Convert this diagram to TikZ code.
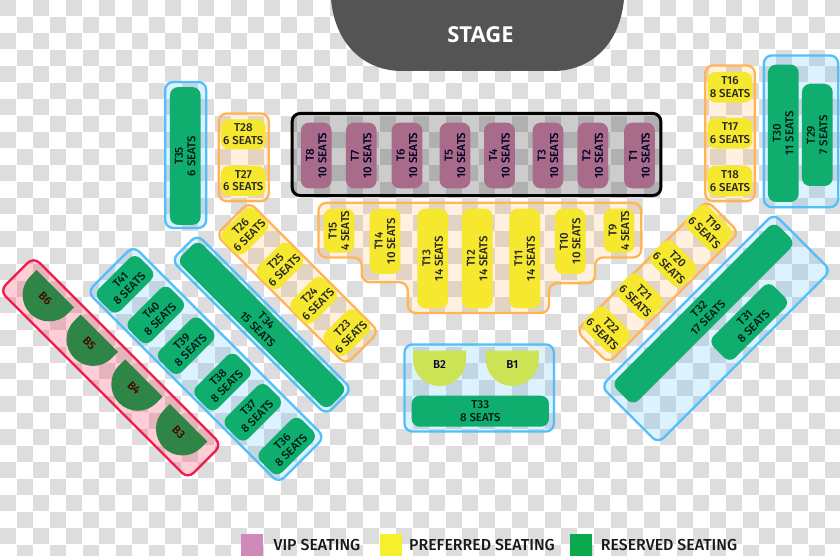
\documentclass[tikz,border=0pt]{standalone}
\usepackage{fontspec}
\setmainfont{Open Sans}
\newfontfamily\seatfont[UprightFont=* Medium]{Fira Sans}
\newfontfamily\legendfont[UprightFont=* Medium]{Fira Sans}
\definecolor{checkgray}{HTML}{DDDDDD}
\definecolor{bluefill}{HTML}{37B2FF}
\definecolor{blueline}{HTML}{52BFFA}
\definecolor{orangefill}{HTML}{FFA743}
\definecolor{orangeline}{HTML}{FFB555}
\definecolor{redfill}{HTML}{FF385C}
\definecolor{redline}{HTML}{EE1C4A}
\definecolor{seatpurple}{HTML}{A86C8A}
\definecolor{seatyellow}{HTML}{F6E72F}
\definecolor{seatgreen}{HTML}{10AE6E}
\definecolor{seatdark}{HTML}{2E8545}
\definecolor{seatlime}{HTML}{CCE353}
\tikzset{
  panelbase/.style={line width=2.3pt,rounded corners=8pt,inner sep=0pt,outer sep=0pt},
  bluepanel/.style={panelbase,draw=blueline,fill=bluefill,fill opacity=.17},
  orangepanel/.style={panelbase,draw=orangeline,fill=orangefill,fill opacity=.17},
  redpanel/.style={panelbase,draw=redline,fill=redfill,fill opacity=.25},
  blackpanel/.style={panelbase,line width=3pt,draw=black,fill=black,fill opacity=.2},
  seatbase/.style={rounded corners=8pt,inner sep=0pt,outer sep=0pt,align=center,
    font=\seatfont\fontsize{11.5}{12.5}\selectfont},
  vipseat/.style={seatbase,fill=seatpurple,text=black!85!blue},
  prefseat/.style={seatbase,fill=seatyellow,text=black!85},
  resseat/.style={seatbase,fill=seatgreen,text=black!80!teal},
  halflabel/.style={inner sep=0pt,font=\seatfont\fontsize{11.5}{12.5}\selectfont},
  swatch/.style={minimum width=22pt,minimum height=23pt,inner sep=0pt},
  legendtext/.style={anchor=west,inner sep=0pt,text=black!90,font=\legendfont\fontsize{15.9}{17}\selectfont}
}
% name, cx, cy, outer w, outer h, angle, style
\newcommand\panelbox[7]{\node[#7,minimum width={#4pt-2.3pt},minimum height={#5pt-2.3pt},rotate=#6] (#1) at (#2,#3) {};}
% name, cx, cy, w (along text), h, angle, style, text
\newcommand\seatbox[8]{\node[#7,minimum width=#4pt,minimum height=#5pt,rotate=#6] (#1) at (#2,#3) {#8};}
% name, flat-side centre x, y, angle, colour, text colour
\newcommand\halfdisc[6]{%
  \begin{scope}[shift={(#2,#3)},rotate=#4]
    \fill[#5] (-26.5,0) -- (-26.5,8.8) arc[start angle=180,end angle=0,radius=26.5] -- (26.5,0) -- cycle;
  \end{scope}
  \begin{scope}[shift={(#2,#3)},rotate=#4,transform shape]
    \node[halflabel,text=#6] (#1) at (0,14) {#1};
  \end{scope}}
\begin{document}
\begin{tikzpicture}[x=1pt,y=-1pt]
\useasboundingbox (0,0) rectangle (840,556);
\fill[white] (0,0) rectangle (840,556);
\begin{scope}
  \clip (0,0) rectangle (840,556);
  \foreach \r in {0,...,33}{
    \foreach \c in {0,...,50}{
      \pgfmathparse{int(mod(\r+\c,2))}
      \ifnum\pgfmathresult=0
        \fill[checkgray] ({\c*16.5+.2},{\r*16.5+.2}) rectangle ++(16.1,16.1);
      \fi
    }
  }
  % stage
  \fill[black!67] (331,-1) .. controls (335,45) and (365,71) .. (402,71) -- (553,71) .. controls (590,71) and (620,45) .. (624,-1) -- cycle;
\end{scope}
\node[inner sep=0pt,text=white,font=\bfseries\fontsize{22}{23}\selectfont] (stage) at (480.5,35) {STAGE};

% panels
\panelbox{pT35}{185.7}{155}{43.3}{148.3}{0}{bluepanel}
\panelbox{pT28}{243.8}{157.3}{52.3}{90}{0}{orangepanel}
\panelbox{pVIP}{476.5}{154.5}{371}{84.4}{0}{blackpanel}
\panelbox{pT16}{730}{133.3}{52}{138}{0}{orangepanel}
\panelbox{pT30}{801}{131.3}{76.6}{154}{0}{bluepanel}
\panelbox{pT32}{716}{328.5}{246.7}{83}{45}{bluepanel}
\panelbox{pT19}{657.7}{281.8}{187}{48}{45}{orangepanel}
\panelbox{pT26}{297.5}{283.3}{186}{49}{-45}{orangepanel}
\panelbox{pT34}{261.7}{324.7}{221}{38.7}{-45}{bluepanel}
\panelbox{pT36}{206}{364.5}{272.7}{67.4}{-45}{bluepanel}
\panelbox{pB}{110.7}{367.8}{268}{50}{-45}{redpanel}
\panelbox{pB12}{479.2}{388}{151.7}{89.4}{0}{bluepanel}
\path[panelbase,draw=orangeline,fill=orangefill,fill opacity=.17]
  (318.5,202.8) -- (641.2,202.8) -- (641.2,257.5) -- (595,257.5) -- (595,283.3) -- (549,283.3)
  -- (549,313) -- (407.7,313) -- (407.7,282.3) -- (361.7,282.3) -- (361.7,257.5) -- (318.5,257.5) -- cycle;

% VIP row
\seatbox{T8}{316.2}{155.5}{65.6}{30.7}{90}{vipseat}{T8\\10 SEATS}
\seatbox{T7}{361.3}{155.5}{65.6}{30.7}{90}{vipseat}{T7\\10 SEATS}
\seatbox{T6}{407}{155.5}{65.6}{30.7}{90}{vipseat}{T6\\10 SEATS}
\seatbox{T5}{455}{155.5}{65.6}{30.7}{90}{vipseat}{T5\\10 SEATS}
\seatbox{T4}{499.5}{155.5}{65.6}{30.7}{90}{vipseat}{T4\\10 SEATS}
\seatbox{T3}{548}{155.5}{65.6}{30.7}{90}{vipseat}{T3\\10 SEATS}
\seatbox{T2}{592.8}{155.5}{65.6}{30.7}{90}{vipseat}{T2\\10 SEATS}
\seatbox{T1}{639.5}{155.5}{65.6}{30.7}{90}{vipseat}{T1\\10 SEATS}

% centre preferred
\seatbox{T15}{339}{230.7}{44}{30.7}{90}{prefseat}{T15\\4 SEATS}
\seatbox{T14}{385}{241.3}{65.3}{30.7}{90}{prefseat}{T14\\10 SEATS}
\seatbox{T13}{432.7}{258.5}{99.6}{30.7}{90}{prefseat}{T13\\14 SEATS}
\seatbox{T12}{477.3}{258.5}{99.6}{30.7}{90}{prefseat}{T12\\14 SEATS}
\seatbox{T11}{524.7}{258.5}{99.6}{30.7}{90}{prefseat}{T11\\14 SEATS}
\seatbox{T10}{570.3}{241.3}{65.3}{30.7}{90}{prefseat}{T10\\10 SEATS}
\seatbox{T9}{619}{230.7}{44}{30.7}{90}{prefseat}{T9\\4 SEATS}

% left of VIP
\seatbox{T35}{185.3}{156}{137.7}{30.7}{90}{resseat}{T35\\6 SEATS}
\seatbox{T28}{243.3}{134.3}{44.7}{30}{0}{prefseat}{T28\\6 SEATS}
\seatbox{T27}{243.3}{180.8}{44.7}{30.3}{0}{prefseat}{T27\\6 SEATS}

% right of VIP
\seatbox{T16}{730}{87.3}{44.7}{30.7}{0}{prefseat}{T16\\8 SEATS}
\seatbox{T17}{730}{133.3}{44.7}{30.7}{0}{prefseat}{T17\\6 SEATS}
\seatbox{T18}{730}{181}{44.7}{30.7}{0}{prefseat}{T18\\6 SEATS}
\seatbox{T30}{783.3}{133.3}{137.3}{30.7}{90}{resseat}{T30\\11 SEATS}
\seatbox{T29}{817.3}{135}{102}{30.7}{90}{resseat}{T29\\7 SEATS}

% right diagonals
\seatbox{T32}{703.5}{313.6}{230}{30.7}{45}{resseat}{T32\\17 SEATS}
\seatbox{T31}{749.2}{322}{85.6}{30.7}{45}{resseat}{T31\\8 SEATS}
\seatbox{T19}{708.7}{228.3}{44.7}{30.7}{-45}{prefseat}{T19\\6 SEATS}
\seatbox{T20}{673.3}{263.7}{44.7}{30.7}{-45}{prefseat}{T20\\6 SEATS}
\seatbox{T21}{639.7}{296.7}{44.7}{30.7}{-45}{prefseat}{T21\\6 SEATS}
\seatbox{T22}{606.7}{330}{44.7}{30.7}{-45}{prefseat}{T22\\6 SEATS}

% left diagonals
\seatbox{T26}{245}{231.2}{44.7}{30.7}{45}{prefseat}{T26\\6 SEATS}
\seatbox{T25}{280}{266}{44.7}{30.7}{45}{prefseat}{T25\\6 SEATS}
\seatbox{T24}{313.7}{300.3}{44.7}{30.7}{45}{prefseat}{T24\\6 SEATS}
\seatbox{T23}{346.7}{332.7}{44.7}{30.7}{45}{prefseat}{T23\\6 SEATS}
\seatbox{T34}{262}{325}{211.7}{30}{-45}{resseat}{T34\\15 SEATS}
\seatbox{T41}{125}{284.3}{58.6}{30.7}{45}{resseat}{T41\\8 SEATS}
\seatbox{T40}{155.8}{315}{58.6}{30.7}{45}{resseat}{T40\\8 SEATS}
\seatbox{T39}{186.2}{345.7}{58.6}{30.7}{45}{resseat}{T39\\8 SEATS}
\seatbox{T38}{222.5}{382}{58.6}{30.7}{45}{resseat}{T38\\8 SEATS}
\seatbox{T37}{252.8}{412.3}{58.6}{30.7}{45}{resseat}{T37\\8 SEATS}
\seatbox{T36}{286.7}{446}{58.6}{30.7}{45}{resseat}{T36\\8 SEATS}

% half discs
\halfdisc{B6}{55.3}{288.7}{-45}{seatdark}{black!60!red!70!black}
\halfdisc{B5}{99.3}{333.2}{-45}{seatdark}{black!60!red!70!black}
\halfdisc{B4}{144}{378}{-45}{seatdark}{black!60!red!70!black}
\halfdisc{B3}{188.7}{422.7}{-45}{seatdark}{black!60!red!70!black}
\halfdisc{B2}{439.5}{350.7}{0}{seatlime}{black!80!blue}
\halfdisc{B1}{512.3}{350.7}{0}{seatlime}{black!80!blue}
\seatbox{T33}{480.3}{411.2}{137.3}{31}{0}{resseat}{T33\\8 SEATS}

% legend
\node[swatch,fill={rgb,255:red,208;green,138;blue,185}] (swVIP) at (252,545.3) {};
\node[swatch,fill={rgb,255:red,245;green,240;blue,43}] (swPref) at (391,545.3) {};
\node[swatch,fill={rgb,255:red,10;green,168;blue,79}] (swRes) at (580.5,545.3) {};
\node[legendtext] (lgVIP) at (273.4,545) {VIP SEATING};
\node[legendtext] (lgPref) at (409,545) {PREFERRED SEATING};
\node[legendtext] (lgRes) at (600.7,545) {RESERVED SEATING};
\end{tikzpicture}
\end{document}
